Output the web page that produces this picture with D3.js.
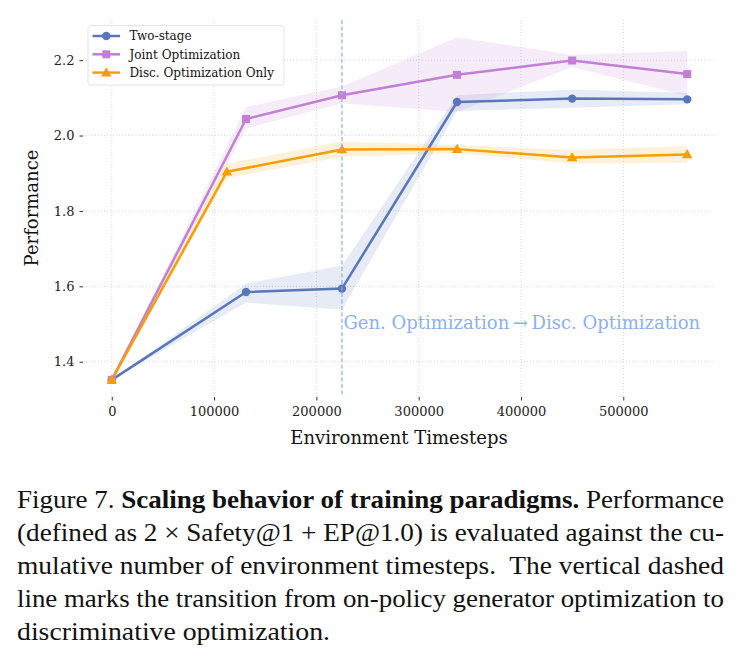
<!DOCTYPE html>
<html>
<head>
<meta charset="utf-8">
<script src="https://cdn.jsdelivr.net/npm/d3@7"></script>
<style>
  body { margin: 0; background: #fff; }
  #wrap { position: relative; width: 740px; height: 662px; overflow: hidden; }
  svg { position: absolute; left: 0; top: 0; }
  .caption { position: absolute; left: 17px; width: 707px; top: 483px;
    font-family: "Liberation Serif", "Times New Roman", serif; font-size: 26px; line-height: 33px; color: #111; }
  .caption div { white-space: nowrap; transform-origin: left center; }
  .tick text { font-family: "DejaVu Serif", serif; font-size: 13px; fill: #222; }
</style>
</head>
<body>
<div id="wrap">
  <svg id="chart" width="740" height="480"></svg>
  <div class="caption">
    <div data-w="707">Figure 7. <b>Scaling behavior of training paradigms.</b> Performance</div>
    <div data-w="707">(defined as 2 × Safety@1 + EP@1.0) is evaluated against the cu-</div>
    <div data-w="707">mulative number of environment timesteps.&nbsp; The vertical dashed</div>
    <div data-w="707">line marks the transition from on-policy generator optimization to</div>
    <div data-w="313">discriminative optimization.</div>
  </div>
</div>
<script>
// timesteps (Two-stage and Joint share the same checkpoints, Disc. Only differs at the 2nd one)
const stepsA = [0, 131250, 225000, 337500, 450000, 562500];
const stepsB = [0, 112500, 225000, 337500, 450000, 562500];

const twoStage   = [1.352, 1.585, 1.594, 2.089, 2.098, 2.096];
const twoStageLo = [1.352, 1.557, 1.538, 2.065, 2.074, 2.083];
const twoStageHi = [1.352, 1.607, 1.655, 2.107, 2.122, 2.113];

const joint   = [1.352, 2.044, 2.107, 2.161, 2.199, 2.163];
const jointLo = [1.352, 2.019, 2.085, 2.063, 2.182, 2.105];
const jointHi = [1.352, 2.076, 2.130, 2.261, 2.214, 2.224];

const disc   = [1.352, 1.904, 1.963, 1.964, 1.942, 1.950];
const discLo = [1.352, 1.887, 1.944, 1.953, 1.926, 1.928];
const discHi = [1.352, 1.926, 1.984, 1.975, 1.962, 1.972];

const xTicks = [0, 100000, 200000, 300000, 400000, 500000];
const yTicks = [1.4, 1.6, 1.8, 2.0, 2.2];
const switchStep = 225000;

const series = [
  { name: 'Two-stage', xs: stepsA, y: twoStage, lo: twoStageLo, hi: twoStageHi, color: '#5876b9', marker: 'circle' },
  { name: 'Joint Optimization', xs: stepsA, y: joint, lo: jointLo, hi: jointHi, color: '#c27fd5', marker: 'square' },
  { name: 'Disc. Optimization Only', xs: stepsB, y: disc, lo: discLo, hi: discHi, color: '#f79e05', marker: 'triangle' },
];

const m = { left: 83, right: 716, top: 20, bottom: 397 };
const svg = d3.select('#chart');

const x = d3.scaleLinear().domain([-28125, 590625]).range([m.left, m.right]);
const y = d3.scaleLinear().domain([1.3065, 2.3065]).range([m.bottom, m.top]);

// grid
const grid = svg.append('g').attr('stroke', '#cfcfcf').attr('stroke-width', 0.8).attr('stroke-dasharray', '1,2');
grid.selectAll('.gx').data(xTicks).join('line')
  .attr('x1', d => x(d)).attr('x2', d => x(d)).attr('y1', m.top).attr('y2', m.bottom);
grid.selectAll('.gy').data(yTicks).join('line')
  .attr('y1', d => y(d)).attr('y2', d => y(d)).attr('x1', m.left).attr('x2', m.right);

// axes (no spines)
const xAxis = svg.append('g').attr('class', 'x-axis').attr('transform', `translate(0,${m.bottom})`)
  .call(d3.axisBottom(x).tickValues(xTicks).tickFormat(d3.format('d')).tickSize(3.5).tickPadding(6));
const yAxis = svg.append('g').attr('class', 'y-axis').attr('transform', `translate(${m.left},0)`)
  .call(d3.axisLeft(y).tickValues(yTicks).tickFormat(d3.format('.1f')).tickSize(3.5).tickPadding(5));
[xAxis, yAxis].forEach(g => {
  g.select('.domain').remove();
  g.selectAll('.tick line').attr('stroke', '#333').attr('stroke-width', 1);
});

// bands
const area = s => d3.area().x((d, i) => x(s.xs[i])).y0((d, i) => y(s.lo[i])).y1((d, i) => y(s.hi[i]));
series.forEach(s => {
  svg.append('path').datum(s.y).attr('d', area(s)).attr('fill', s.color).attr('fill-opacity', 0.15);
});

// lines
series.forEach(s => {
  const line = d3.line().x((d, i) => x(s.xs[i])).y(d => y(d));
  svg.append('path').datum(s.y).attr('d', line).attr('fill', 'none')
    .attr('stroke', s.color).attr('stroke-width', 2.5).attr('stroke-linejoin', 'round');
});

function drawMarker(g, type, cx, cy, color) {
  if (type === 'circle') {
    g.append('circle').attr('cx', cx).attr('cy', cy).attr('r', 4.2).attr('fill', color);
  } else if (type === 'square') {
    g.append('rect').attr('x', cx - 4).attr('y', cy - 4).attr('width', 8).attr('height', 8).attr('fill', color);
  } else {
    g.append('path').attr('d', d3.symbol(d3.symbolTriangle, 48)()).attr('transform', `translate(${cx},${cy + 0.8})`).attr('fill', color);
  }
}

series.forEach(s => {
  const g = svg.append('g');
  s.y.forEach((v, i) => drawMarker(g, s.marker, x(s.xs[i]), y(v), s.color));
});

// switch marker
svg.append('line')
  .attr('x1', x(switchStep)).attr('x2', x(switchStep)).attr('y1', m.top).attr('y2', m.bottom)
  .attr('stroke', '#8cb0f2').attr('stroke-width', 1.2).attr('stroke-dasharray', '4,2.5');
svg.append('text')
  .attr('x', x(switchStep) + 1.5).attr('y', 329)
  .attr('font-family', 'DejaVu Serif').attr('font-size', 18).attr('fill', '#8cb0f2')
  .text('Gen. Optimization\u2009\u2192\u2009Disc. Optimization');

// axis labels
svg.append('text').attr('x', 399).attr('y', 444).attr('text-anchor', 'middle')
  .attr('font-family', 'DejaVu Serif').attr('font-size', 18).attr('fill', '#111')
  .text('Environment Timesteps');
svg.append('text').attr('transform', 'translate(38,208) rotate(-90)').attr('text-anchor', 'middle')
  .attr('font-family', 'DejaVu Serif').attr('font-size', 18).attr('fill', '#111')
  .text('Performance');

// legend
const lg = svg.append('g').attr('transform', 'translate(88,25.5)');
lg.append('rect').attr('width', 196).attr('height', 59.5).attr('rx', 3)
  .attr('fill', '#fff').attr('fill-opacity', 0.85).attr('stroke', '#dcdcdc').attr('stroke-width', 0.8);
series.forEach((s, i) => {
  const cy = 10.5 + i * 18.3;
  lg.append('line').attr('x1', 4.5).attr('x2', 32).attr('y1', cy).attr('y2', cy)
    .attr('stroke', s.color).attr('stroke-width', 2.5);
  drawMarker(lg, s.marker, 18.3, cy, s.color);
  lg.append('text').attr('x', 41.5).attr('y', cy + 4.2)
    .attr('font-family', 'DejaVu Serif').attr('font-size', 12).attr('fill', '#111')
    .text(s.name);
});

// stretch each caption line to the width it has in the printed figure
document.querySelectorAll('.caption div').forEach(div => {
  const span = document.createElement('span');
  while (div.firstChild) span.appendChild(div.firstChild);
  div.appendChild(span);
  const w = span.getBoundingClientRect().width;
  div.style.transform = `scaleX(${+div.dataset.w / w})`;
});
</script>
</body>
</html>
